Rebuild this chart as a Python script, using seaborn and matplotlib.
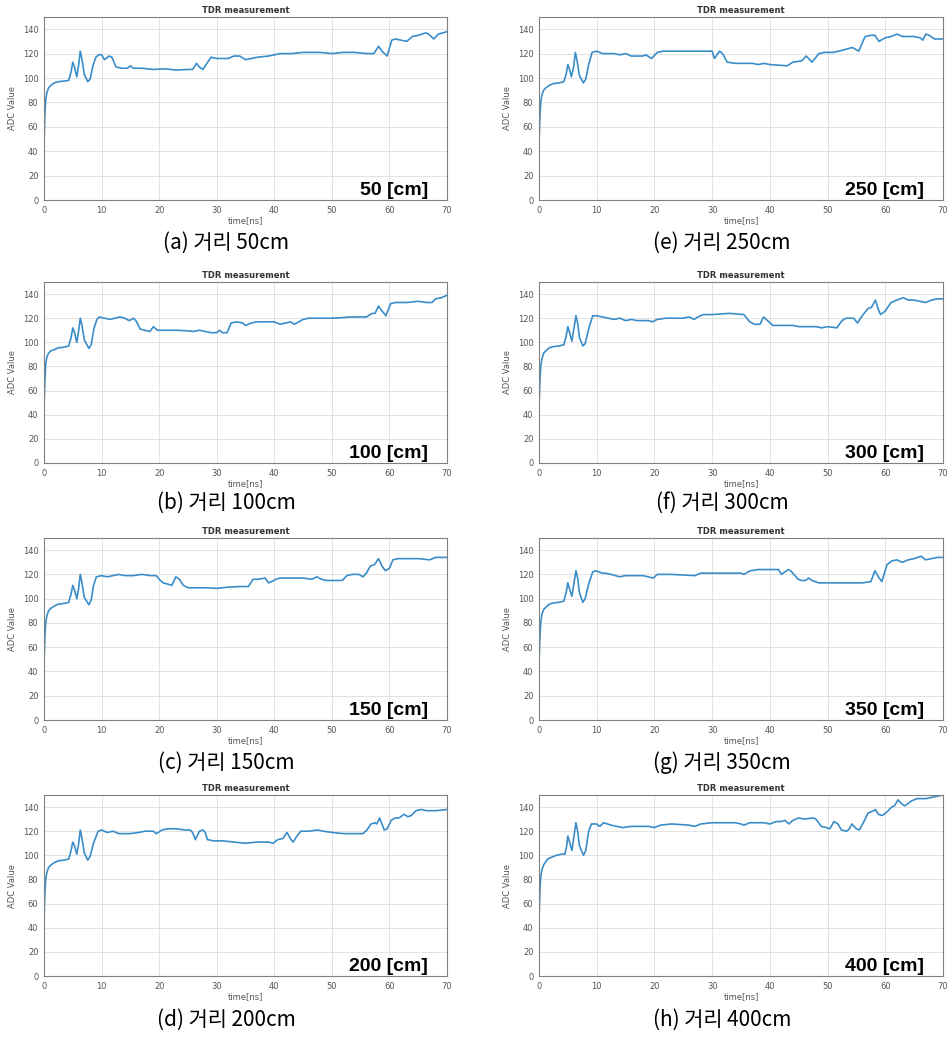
import numpy as np
import pandas as pd
import seaborn as sns
import matplotlib.pyplot as plt

# TDR traces: time [ns] and ADC value per cable length
t_a = [0, 0.15, 0.3, 0.5, 0.8, 1.2, 1.8, 2.5, 3.5, 4.3, 4.7, 5.0, 5.3, 5.7, 6.0, 6.3, 6.6, 7.0, 7.6, 8.0,
       8.5, 9.0, 9.5, 10.0, 10.5, 11.3, 11.8, 12.5, 13.5, 14.5, 15.0, 15.5, 17, 19, 21, 23, 25, 25.8, 26.5, 27.0,
       27.6, 28.3, 29.0, 30, 32, 33, 34, 35, 36, 37, 39, 41, 43, 45, 48, 50, 52, 54, 56, 57.3,
       58.1, 58.7, 59.6, 60.4, 61.0, 62, 63, 64, 65, 66.3, 66.8, 67.7, 68.5, 69.3, 70]
adc_a = [45, 70, 82, 88, 92, 94, 96, 97, 97.5, 98, 105, 113, 109, 101, 110, 122, 115, 103, 97, 99,
         110, 117, 119, 119, 115, 118, 117, 109, 108, 108, 110, 108, 108, 107, 107.5, 106.5, 107, 107, 112, 109,
         107, 112, 117, 116, 116, 118, 118, 115, 116, 117, 118, 120, 120, 121, 121, 120, 121, 121, 120, 120,
         126, 122, 118, 131, 132, 131, 130, 134, 135, 137, 136, 132, 136, 137, 138]

t_b = [0, 0.15, 0.3, 0.5, 0.8, 1.2, 1.8, 2.5, 3.5, 4.3, 4.7, 5.0, 5.3, 5.7, 6.0, 6.3, 6.6, 7.0, 7.8, 8.2,
       8.7, 9.2, 9.6, 10.5, 11.5, 12.3, 13.2, 14.0, 14.8, 15.6, 16.1, 16.7, 17.5, 18.4, 19.0, 19.7, 21, 23, 25, 26,
       27, 28, 29, 30, 30.5, 31.0, 31.8, 32.5, 33.5, 34.5, 35.0, 36.0, 37, 38.5, 40, 41, 42, 42.8, 43.5, 45,
       46, 48, 50, 52, 53, 55, 56, 57, 57.5, 58.1, 58.7, 59.4, 60.2, 61, 63, 65, 66.5, 67.4, 68, 69, 70]
adc_b = [45, 68, 82, 88, 91, 93, 94, 95.5, 96, 97, 104, 112, 108, 100, 109, 120, 114, 102, 95, 98,
         112, 119, 121, 120, 119, 120, 121, 120, 118, 120, 117, 111, 110, 109, 113, 110, 110, 110, 109.5, 109,
         110, 109, 108, 108, 110, 108, 108, 116, 117, 116, 114, 116, 117, 117, 117, 115, 116, 117, 115, 119,
         120, 120, 120, 120.5, 121, 121, 121, 124, 124, 130, 126, 122, 132, 133, 133, 134, 133, 133, 136, 137, 139]

t_c = [0, 0.15, 0.3, 0.5, 0.8, 1.2, 1.8, 2.5, 3.5, 4.3, 4.7, 5.0, 5.3, 5.7, 6.0, 6.3, 6.6, 7.0, 7.8, 8.2,
       8.6, 9.1, 10, 11, 12, 13, 14, 15.5, 17, 18.5, 19.5, 20.2, 20.7, 21.5, 22.2, 22.9, 23.5, 24.2, 25, 26,
       28, 30, 32, 34, 35.5, 36.3, 37.2, 38.4, 39.0, 39.5, 40.3, 41, 43, 45, 46.5, 47.4, 48.2, 49, 51, 51.8,
       52.6, 53.5, 54.7, 55.4, 56.0, 56.7, 57.4, 58.1, 58.7, 59.3, 60.0, 60.6, 61.5, 63, 65, 67, 68, 69, 70]
adc_c = [45, 68, 80, 86, 90, 92, 94, 95.5, 96, 97, 104, 111, 107, 100, 108, 120, 113, 101, 95, 99,
         111, 118, 119, 118, 119, 120, 119, 119, 120, 119, 119, 115, 113, 112, 111, 118, 116, 111, 109, 109,
         109, 108.5, 109.5, 110, 110, 116, 116, 117, 113, 114, 116, 117, 117, 117, 116, 118, 116, 115, 115, 115,
         119, 120, 120, 118, 121, 127, 128, 133, 127, 123, 125, 132, 133, 133, 133, 132, 134, 134, 134]

t_d = [0, 0.15, 0.3, 0.5, 0.8, 1.2, 1.8, 2.5, 3.5, 4.3, 4.7, 5.0, 5.3, 5.7, 6.0, 6.3, 6.6, 7.0, 7.6, 8.0,
       8.6, 9.4, 10, 11, 12, 13, 15, 16.5, 17.5, 19, 19.5, 20.5, 21.5, 23, 24.5, 25.4, 25.8, 26.3, 27.0, 27.6,
       28.0, 28.4, 29.5, 31, 33, 35, 37, 39, 39.8, 40.6, 41.5, 42.2, 42.9, 43.3, 43.8, 44.6, 46, 47.5, 48.5, 50,
       52, 55.4, 56.1, 56.8, 57.5, 57.8, 58.3, 58.7, 59.1, 59.6, 60.3, 61, 61.7, 62.5, 63.2, 63.8, 64.6, 65.5, 66.5, 68, 70]
adc_d = [45, 68, 80, 86, 90, 92, 94, 95.5, 96, 97, 104, 111, 108, 101, 109, 121, 114, 102, 96, 99,
         110, 120, 121, 119, 120, 118, 118, 119, 120, 120, 118, 121, 122, 122, 121, 121, 119, 113, 120, 121,
         119, 113, 112, 112, 111, 110, 111, 111, 110, 113, 114, 119, 113, 111, 115, 120, 120, 121, 120, 119,
         118, 118, 121, 126, 127, 126, 131, 126, 121, 122, 129, 131, 131, 134, 132, 133, 137, 138, 137, 137, 138]

t_e = [0, 0.15, 0.3, 0.5, 0.8, 1.2, 1.8, 2.5, 3.5, 4.3, 4.7, 5.0, 5.3, 5.6, 6.0, 6.3, 6.6, 7.0, 7.7, 8.1,
       8.6, 9.2, 10, 11, 13, 14, 15, 16, 18, 18.5, 19.5, 20.5, 21.5, 25, 29, 30.0, 30.4, 31.3, 31.8, 32.6,
       34, 37, 38, 39, 40, 43, 44, 45.5, 46.3, 47.3, 48.5, 49.5, 51, 52, 53.5, 54.3, 55.4, 56.5, 57.5, 58.2,
       58.9, 60, 61, 62, 63, 65, 66, 66.5, 67, 67.6, 68.5, 70]
adc_e = [45, 68, 80, 86, 90, 92, 94, 95.5, 96, 97, 103, 111, 107, 101, 109, 121, 114, 102, 96, 99,
         111, 121, 122, 120, 120, 119, 120, 118, 118, 119, 116, 121, 122, 122, 122, 122, 116, 122, 120, 113,
         112, 112, 111, 112, 111, 110, 113, 114, 118, 113, 120, 121, 121, 122, 124, 125, 122, 134, 135, 135,
         130, 133, 134, 136, 134, 134, 133, 131, 136, 135, 132, 132]

t_f = [0, 0.15, 0.3, 0.5, 0.8, 1.2, 1.8, 2.5, 3.5, 4.3, 4.7, 5.0, 5.3, 5.7, 6.0, 6.4, 6.7, 7.0, 7.6, 8.0,
       8.6, 9.3, 10, 11, 12, 13, 14, 15, 16, 17, 19, 19.6, 20.5, 22, 25, 26, 26.9, 27.5, 28.5, 30,
       33, 35.5, 36.5, 37.3, 38.3, 38.9, 39.6, 40.5, 42, 44, 45, 48, 49, 50, 51.6, 52.5, 53.2, 54.5, 55.2, 56,
       57, 57.6, 58.3, 58.8, 59.2, 60, 61, 62, 63.1, 64, 65, 66, 67, 68, 69, 70]
adc_f = [45, 68, 80, 86, 91, 93, 95.5, 96.5, 97, 98, 105, 113, 108, 101, 110, 122, 116, 104, 97, 99,
         111, 122, 122, 121, 120, 119, 120, 118, 119, 118, 118, 117, 119, 120, 120, 121, 119, 121, 123, 123,
         124, 123, 117, 115, 115, 121, 118, 114, 114, 114, 113, 113, 112, 113, 112, 118, 120, 120, 116, 122,
         128, 129, 135, 127, 123, 126, 133, 135, 137, 135, 135, 134, 133, 135, 136, 136]

t_g = [0, 0.15, 0.3, 0.5, 0.8, 1.2, 1.8, 2.5, 3.5, 4.3, 4.7, 5.0, 5.3, 5.7, 6.0, 6.4, 6.7, 7.0, 7.6, 8.0,
       8.6, 9.3, 9.8, 11, 11.5, 12.5, 14, 15, 17, 18, 19.8, 20.5, 23, 27, 28, 30, 35, 35.5, 36.6, 38,
       41.5, 42.0, 42.6, 43.2, 43.6, 44.9, 45.5, 46.2, 46.7, 47.3, 48.5, 50, 53, 56, 57.5, 58.2, 58.8, 59.4, 60.3, 61.1,
       62, 62.9, 64, 65, 66.2, 67, 68, 69, 70]
adc_g = [45, 68, 80, 87, 91, 93, 95.5, 96.5, 97, 98, 105, 113, 108, 102, 111, 123, 117, 105, 97, 100,
         112, 122, 123, 121, 121, 120, 118, 119, 119, 119, 117, 120, 120, 119, 121, 121, 121, 120, 123, 124,
         124, 120, 122, 124, 123, 116, 115, 115, 117, 115, 113, 113, 113, 113, 114, 123, 118, 114, 128, 131,
         132, 130, 132, 133, 135, 132, 133, 134, 134]

t_h = [0, 0.15, 0.3, 0.5, 0.8, 1.5, 2.5, 3.0, 4.0, 4.5, 4.8, 5.0, 5.3, 5.7, 6.0, 6.4, 6.7, 7.0, 7.7, 8.1,
       8.6, 9.1, 10, 10.5, 11.2, 12.5, 13.5, 14.5, 16, 19, 20, 21, 23, 26, 27, 28, 30, 34, 35, 35.5,
       36.5, 39, 40, 41.1, 42, 42.6, 43.3, 44, 45, 46, 47.5, 48, 48.9, 49.8, 50.4, 51.1, 51.8, 52.4, 53.3, 53.8,
       54.2, 55, 55.5, 56.3, 57, 58, 58.3, 58.8, 59.5, 60.3, 61.1, 61.6, 62.2, 63, 63.4, 64.5, 65.5, 67, 68, 69, 70]
adc_h = [45, 70, 82, 88, 92, 97, 99, 100, 101, 101, 108, 116, 111, 104, 114, 127, 120, 108, 100, 104,
         120, 126, 126, 124, 127, 125, 124, 123, 124, 124, 123, 125, 126, 125, 124, 126, 127, 127, 126, 125,
         127, 127, 126, 128, 128, 129, 126, 129, 131, 130, 131, 130, 124, 123, 122, 128, 126, 121, 120, 122,
         126, 122, 121, 128, 135, 137, 138, 134, 133, 136, 140, 141, 146, 142, 141, 145, 147, 147, 148, 149, 150]

labels = ['50 [cm]', '250 [cm]', '100 [cm]', '300 [cm]',
          '150 [cm]', '350 [cm]', '200 [cm]', '400 [cm]']
captions = ['(a) 거리 50cm', '(e) 거리 250cm', '(b) 거리 100cm', '(f) 거리 300cm',
            '(c) 거리 150cm', '(g) 거리 350cm', '(d) 거리 200cm', '(h) 거리 400cm']
series = [(t_a, adc_a), (t_e, adc_e), (t_b, adc_b), (t_f, adc_f),
          (t_c, adc_c), (t_g, adc_g), (t_d, adc_d), (t_h, adc_h)]

sns.set_style("whitegrid")
plt.rcParams['font.family'] = ['DejaVu Sans']

W, H = 947, 1038
fig = plt.figure(figsize=(W / 100, H / 100), dpi=100)

# axes boxes in pixels: (left, top, right, bottom)
cols = [(44, 447), (539, 943)]
rows = [(17, 200), (282, 463), (538, 720), (795, 976)]
cap_x = [226, 722]
cap_y = [243, 503, 763, 1020]

LINE = '#3a8dc8'

for i, (t, v) in enumerate(series):
    r, c = divmod(i, 2)
    l, rr = cols[c]
    top, bot = rows[r]
    ax = fig.add_axes([l / W, 1 - bot / H, (rr - l) / W, (bot - top) / H])
    df = pd.DataFrame({'time': t, 'adc': v})
    sns.lineplot(data=df, x='time', y='adc', ax=ax, color=LINE, linewidth=1.2)
    ax.set_xlim(0, 70)
    ax.set_ylim(0, 150)
    ax.set_xticks(np.arange(0, 71, 10))
    ax.set_yticks(np.arange(0, 141, 20))
    ax.grid(True, color='#dedede', linewidth=0.6)
    for s in ax.spines.values():
        s.set_color('#808080')
        s.set_linewidth(0.8)
    ax.tick_params(labelsize=6, colors='#555555', length=2, pad=2)
    ax.set_title('TDR measurement', fontsize=6, fontweight='bold', color='#333333', pad=3)
    ax.set_xlabel('time[ns]', fontsize=6, color='#555555', labelpad=1)
    ax.set_ylabel('ADC Value', fontsize=6, color='#555555', labelpad=4)
    ax.text(0.953, 0.025, labels[i], transform=ax.transAxes, ha='right', va='baseline',
            fontsize=14, fontweight='bold', color='black', family=['Liberation Sans', 'DejaVu Sans'])
    fig.text(cap_x[c] / W, 1 - cap_y[r] / H, captions[i], ha='center', va='center',
             fontsize=15, fontweight='light', color='black',
             family=['Noto Sans CJK KR', 'DejaVu Sans'])

plt.savefig('out.png', dpi=100)
